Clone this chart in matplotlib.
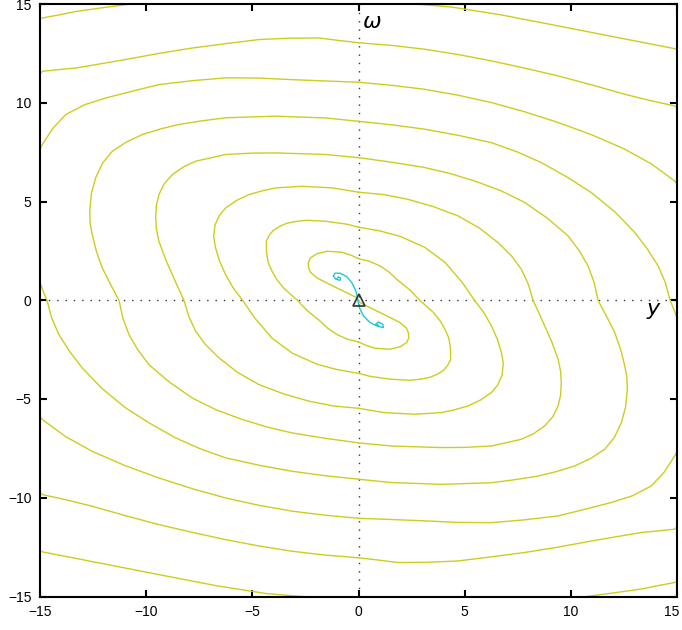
import numpy as np
import matplotlib
matplotlib.use('Agg')
import matplotlib.pyplot as plt
import matplotlib.transforms as mtransforms

# right-hand half turns of the trajectories (y, omega); the left-hand turns are the
# same arcs through the origin (picture is point symmetric)
r0_y = [0.0, 0.07, 0.55, 1.01, 1.50, 1.95, 2.25, 2.35, 2.37, 2.27, 1.95, 1.48, 0.78, 0.35, 0.0]
r0_w = [0.0, -0.12, -0.38, -0.62, -0.88, -1.13, -1.40, -1.64, -1.90, -2.14, -2.36, -2.48, -2.43, -2.28, -2.11]

r1_y = [0.0, 0.50, 1.01, 1.45, 1.80, 2.43, 2.88, 3.52, 3.85, 4.07, 4.25, 4.33, 4.34, 4.20, 4.00,
        3.70, 3.37, 2.90, 2.43, 1.54, 0.54, 0.0]
r1_w = [2.11, 1.98, 1.74, 1.42, 1.06, 0.51, 0.0, -0.61, -1.05, -1.47, -1.90, -2.40, -2.99, -3.30, -3.55,
        -3.75, -3.90, -4.00, -4.05, -4.00, -3.85, -3.70]

r2_y = [0.0, 1.01, 1.95, 3.12, 4.07, 4.88, 5.46, 5.90, 6.26, 6.55, 6.73, 6.82, 6.76, 6.55, 6.26,
        5.75, 5.16, 4.50, 3.90, 2.65, 1.23, 0.0]
r2_w = [3.70, 3.51, 3.24, 2.68, 1.92, 0.91, 0.0, -0.62, -1.30, -2.00, -2.65, -3.20, -3.80, -4.30, -4.67,
        -5.05, -5.35, -5.55, -5.69, -5.77, -5.69, -5.47]

r3_y = [0.0, 1.20, 2.33, 3.50, 4.69, 5.70, 6.57, 7.20, 7.67, 8.00, 8.22, 8.50, 8.77, 9.10, 9.40,
        9.52, 9.55, 9.52, 9.40, 9.15, 8.77, 8.25, 7.67, 6.26, 5.00, 3.90, 1.54, 0.0]
r3_w = [5.47, 5.35, 5.11, 4.75, 4.27, 3.65, 2.92, 2.25, 1.57, 0.80, 0.0, -0.65, -1.30, -2.10, -2.99,
        -3.60, -4.17, -4.80, -5.35, -5.90, -6.36, -6.75, -7.04, -7.38, -7.45, -7.46, -7.38, -7.22]

r4_y = [0.0, 1.50, 3.12, 4.30, 5.47, 6.70, 7.83, 8.90, 9.87, 10.40, 10.81, 11.10, 11.28, 11.70, 12.07,
        12.35, 12.54, 12.64, 12.66, 12.58, 12.38, 12.05, 11.60, 10.95, 10.18, 9.30, 8.46, 7.40, 6.26,
        3.90, 1.54, 0.0]
r4_w = [7.22, 7.00, 6.72, 6.42, 6.04, 5.55, 4.95, 4.15, 3.26, 2.50, 1.74, 0.90, 0.0, -0.85, -1.64,
        -2.50, -3.33, -3.90, -4.51, -5.40, -6.20, -6.95, -7.54, -8.00, -8.39, -8.68, -8.90, -9.08, -9.24,
        -9.32, -9.23, -9.06]

r5_y = [0.0, 1.60, 3.12, 4.70, 6.26, 7.50, 8.61, 9.80, 10.97, 12.10, 13.01, 13.60, 14.11, 14.45, 14.66,
        14.90, 15.20, 15.50, 15.50, 15.20, 14.89, 14.40, 13.79, 12.90, 11.91, 10.60, 9.40, 7.80, 6.26,
        4.70, 3.12, 1.50, 0.0]
r5_w = [9.06, 8.88, 8.66, 8.35, 7.98, 7.50, 6.97, 6.25, 5.45, 4.45, 3.43, 2.60, 1.74, 0.90, 0.05,
        -0.60, -1.50, -3.50, -5.50, -7.30, -7.88, -8.70, -9.40, -9.90, -10.24, -10.60, -10.92, -11.12, -11.26,
        -11.25, -11.17, -11.10, -11.04]

r6_y = [0.0, 1.60, 3.12, 4.70, 6.26, 7.80, 9.40, 11.00, 12.54, 13.80, 14.89, 16.0, 17.0, 17.2, 16.8,
        15.8, 14.89, 14.10, 13.32, 12.10, 10.97, 9.40, 7.83, 6.20, 4.69, 3.20, 1.86, 0.90, 0.0]
r6_w = [11.04, 10.88, 10.68, 10.38, 10.01, 9.55, 9.00, 8.37, 7.65, 6.90, 6.04, 4.5, 1.0, -3.0, -7.0,
        -10.6, -11.59, -11.68, -11.76, -11.98, -12.19, -12.50, -12.77, -13.00, -13.20, -13.27, -13.28, -13.15, -13.04]

r7_y = [0.0, 1.60, 3.12, 4.70, 6.26, 7.80, 9.40, 11.00, 12.54, 13.70, 14.89, 17.0, 18.5, 19.0, 18.0,
        16.5, 15.0, 14.10, 13.32, 12.00, 10.80, 9.0]
r7_w = [13.04, 12.90, 12.71, 12.44, 12.12, 11.76, 11.36, 10.90, 10.43, 10.12, 9.84, 8.0, 4.0, -2.0, -8.0,
        -12.5, -14.27, -14.45, -14.62, -14.82, -14.99, -15.3]

r8_y = [0.0, 2.42, 4.36, 6.71, 9.12, 11.5, 14.89, 16.5]
r8_w = [15.25, 15.02, 14.85, 14.45, 13.95, 13.45, 12.74, 12.0]

arcs_y = [r0_y, r1_y, r2_y, r3_y, r4_y, r5_y, r6_y, r7_y, r8_y]
arcs_w = [r0_w, r1_w, r2_w, r3_w, r4_w, r5_w, r6_w, r7_w, r8_w]

# short trajectory near the equilibrium
cyan_y = [-1.0, -0.95, -0.84, -0.87, -1.06, -1.19, -1.11, -0.87, -0.56, -0.32, -0.12, -0.04,
          0.04, 0.23, 0.54, 0.93, 1.17, 1.14, 0.93, 0.82, 0.93]
cyan_w = [1.10, 1.18, 1.13, 1.01, 1.06, 1.23, 1.37, 1.37, 1.20, 0.90, 0.47, 0.05,
          -0.37, -0.79, -1.13, -1.33, -1.38, -1.21, -1.10, -1.21, -1.27]

ticks = [-15, -10, -5, 0, 5, 10, 15]

yellow = '#cdcd1e'
cyan = '#1ec8d2'

fig = plt.figure(figsize=(6.82, 6.30), dpi=100)
ax = fig.add_axes([40 / 682, 33.5 / 630, 637 / 682, 592.5 / 630])

for ys, ws in zip(arcs_y, arcs_w):
    ys = np.array(ys)
    ws = np.array(ws)
    ax.plot(ys, ws, color=yellow, lw=1.0, zorder=2)
    ax.plot(-ys, -ws, color=yellow, lw=1.0, zorder=2)

ax.plot([-15, 15], [0, 0], color='#333333', lw=1.0, ls=(0, (1, 5)), zorder=1)
ax.plot([0, 0], [-15, 15], color='#333333', lw=1.0, ls=(0, (1, 5)), zorder=1)

ax.plot(cyan_y, cyan_w, color=cyan, lw=1.0, zorder=3)
ax.plot([0], [0], marker='^', ms=9, mfc='none', mec='#333333', mew=1.2, zorder=4)

ax.text(0.62, 14.1, r'$\omega$', fontsize=16, ha='center', va='center')
ax.text(13.9, -0.55, r'$y$', fontsize=16, ha='center', va='center')

ax.set_xlim(-15, 15)
ax.set_ylim(-15, 15)
ax.set_xticks(ticks)
ax.set_yticks(ticks)
ax.tick_params(direction='in', length=5, width=1.5, top=True, right=True, pad=6,
               labelsize=10)
for lab in ax.get_xticklabels() + ax.get_yticklabels():
    lab.set_family('Liberation Sans')
# keep the last x label inside the canvas
last = ax.get_xticklabels()[-1]
last.set_transform(last.get_transform() +
                   mtransforms.ScaledTranslation(-5 / 100, 0, fig.dpi_scale_trans))
for sp in ax.spines.values():
    sp.set_linewidth(1.5)
    sp.set_zorder(5)

fig.savefig('out.png', dpi=100)
